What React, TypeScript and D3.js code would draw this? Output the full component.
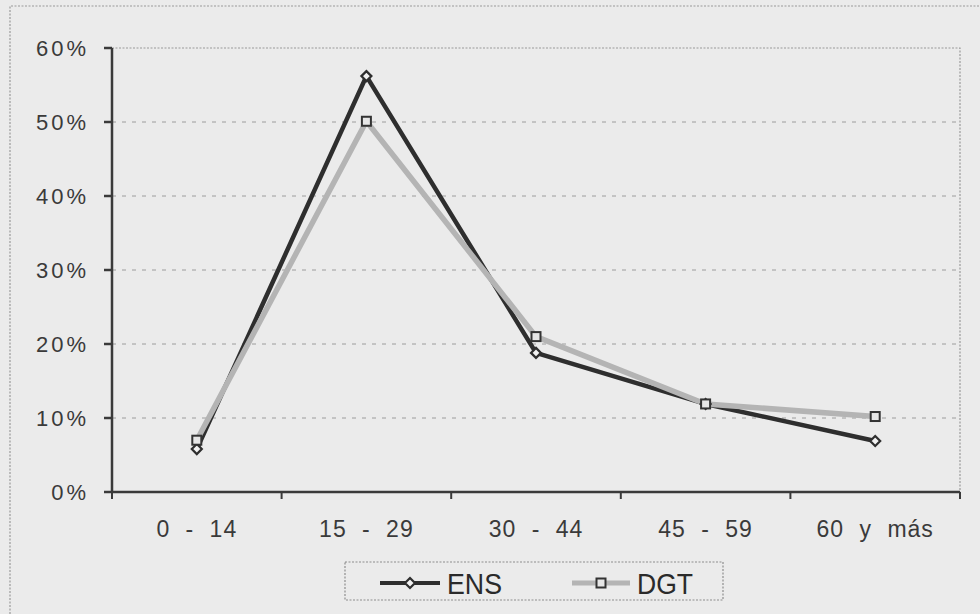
import React from "react";
import * as d3 from "d3";

const categories = ["0 - 14", "15 - 29", "30 - 44", "45 - 59", "60 y más"];
const ensValues = [5.8, 56.2, 18.8, 11.9, 6.9];
const dgtValues = [7.0, 50.1, 21.0, 11.9, 10.2];
const yTicks = [0, 10, 20, 30, 40, 50, 60];
const seriesNames = ["ENS", "DGT"];

const W = 980;
const H = 614;
const M = { left: 112, right: 960, top: 48, bottom: 492 };

export default function App() {
  const x = d3.scaleBand<string>().domain(categories).range([M.left, M.right]).padding(0);
  const y = d3.scaleLinear().domain([0, 60]).range([M.bottom, M.top]);
  const cx = (c: string) => (x(c) as number) + x.bandwidth() / 2;

  const line = d3
    .line<number>()
    .x((_, i) => cx(categories[i]))
    .y((d) => y(d));

  const axisColor = "#3a3a3a";
  const ensColor = "#2e2e2e";
  const dgtColor = "#b4b4b4";
  const bg = "#ebebeb";

  const diamond = (px: number, py: number, r: number) =>
    `M${px},${py - r}L${px + r},${py}L${px},${py + r}L${px - r},${py}Z`;

  const legY = 583;

  return (
    <svg
      width={W}
      height={H}
      style={{ position: "absolute", left: 0, top: 0, background: bg }}
      fontFamily="'Liberation Sans', Arial, sans-serif"
    >
      <rect x={0} y={0} width={W} height={H} fill={bg} />
      {/* outer frame */}
      <path d={`M10,${H}L10,6L${W},6`} fill="none" stroke="#9a9a9a" strokeWidth={1.2} strokeDasharray="2,1.5" />
      {/* plot area border (top, right) */}
      <path
        d={`M${M.left},${M.top}L${M.right},${M.top}L${M.right},${M.bottom}`}
        fill="none"
        stroke="#9a9a9a"
        strokeWidth={1.2}
        strokeDasharray="2,1.5"
      />
      {/* gridlines */}
      {yTicks
        .filter((t) => t > 0 && t < 60)
        .map((t) => (
          <line
            key={"g" + t}
            x1={M.left}
            x2={M.right}
            y1={y(t)}
            y2={y(t)}
            stroke="#9c9c9c"
            strokeWidth={1}
            strokeDasharray="4,6"
          />
        ))}
      {/* y axis */}
      <line x1={M.left} x2={M.left} y1={M.top} y2={M.bottom} stroke={axisColor} strokeWidth={2.5} />
      {yTicks.map((t) => (
        <g key={"yt" + t}>
          <line x1={M.left - 8} x2={M.left} y1={y(t)} y2={y(t)} stroke={axisColor} strokeWidth={2.5} />
          <text
            x={89}
            y={y(t) + 8}
            textAnchor="end"
            fontSize={22}
            fill="#3a3a3a"
            letterSpacing={3}
          >
            {t + "%"}
          </text>
        </g>
      ))}
      {/* x axis */}
      <line x1={M.left} x2={M.right} y1={M.bottom} y2={M.bottom} stroke={axisColor} strokeWidth={2.5} />
      {categories.map((c, i) => (
        <line
          key={"xt" + i}
          x1={x(c) as number}
          x2={x(c) as number}
          y1={M.bottom}
          y2={M.bottom + 7}
          stroke={axisColor}
          strokeWidth={2}
        />
      ))}
      <line x1={M.right} x2={M.right} y1={M.bottom} y2={M.bottom + 7} stroke={axisColor} strokeWidth={2} />
      {categories.map((c, i) => (
        <text
          key={"xl" + i}
          x={cx(c)}
          y={537}
          textAnchor="middle"
          fontSize={23}
          fill="#3a3a3a"
          letterSpacing={1}
          wordSpacing={8}
          style={{ whiteSpace: "pre" }}
        >
          {c}
        </text>
      ))}
      {/* ENS */}
      <path d={line(ensValues) || ""} fill="none" stroke={ensColor} strokeWidth={4.5} strokeLinejoin="round" />
      {/* DGT */}
      <path d={line(dgtValues) || ""} fill="none" stroke={dgtColor} strokeWidth={5.5} strokeLinejoin="round" />
      {ensValues.map((v, i) => (
        <path
          key={"em" + i}
          d={diamond(cx(categories[i]), y(v), 5)}
          fill="#f2f2f2"
          stroke={ensColor}
          strokeWidth={2.2}
        />
      ))}
      {dgtValues.map((v, i) => (
        <rect
          key={"dm" + i}
          x={cx(categories[i]) - 4.5}
          y={y(v) - 4.5}
          width={9}
          height={9}
          fill="#e6e6e6"
          stroke="#333"
          strokeWidth={2}
        />
      ))}
      {/* legend */}
      <rect
        x={345}
        y={562}
        width={378}
        height={38}
        fill={bg}
        stroke="#8e8e8e"
        strokeWidth={1.2}
        strokeDasharray="2,1.5"
      />
      <line x1={380} x2={440} y1={legY} y2={legY} stroke={ensColor} strokeWidth={4} />
      <path d={diamond(410, legY, 5)} fill="#f2f2f2" stroke={ensColor} strokeWidth={2.2} />
      <text x={447} y={594} fontSize={29} fill="#2a2a2a" textLength={55} lengthAdjust="spacingAndGlyphs">
        {seriesNames[0]}
      </text>
      <line x1={572} x2={630} y1={legY} y2={legY} stroke={dgtColor} strokeWidth={5} />
      <rect x={596.5} y={legY - 4.5} width={9} height={9} fill="#e6e6e6" stroke="#333" strokeWidth={2} />
      <text x={637} y={594} fontSize={29} fill="#2a2a2a" textLength={56} lengthAdjust="spacingAndGlyphs">
        {seriesNames[1]}
      </text>
    </svg>
  );
}
